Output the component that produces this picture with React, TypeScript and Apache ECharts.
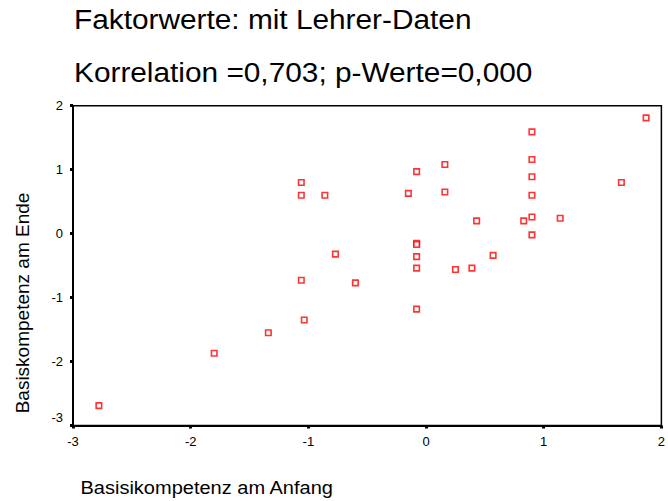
import React, { useEffect, useRef } from "react";
import * as echarts from "echarts";

const titleLine1 = "Faktorwerte: mit Lehrer-Daten";
const titleLine2 = "Korrelation =0,703; p-Werte=0,000";
const xAxisName = "Basisikompetenz am Anfang";
const yAxisName = "Basiskompetenz am Ende";

const xTicks = [-3, -2, -1, 0, 1, 2];
const yTicks = [-3, -2, -1, 0, 1, 2];

// Factor scores: start (x) and end (y)
const anfang = [
  -2.78, -1.8, -1.34, -1.035, -1.06, -0.6, -0.77, -1.06, -1.06, -0.86,
  1.87, 0.9, 0.9, 0.9, 0.9, 0.9, 0.9, 0.83, 1.14, 1.66,
  0.16, -0.08, -0.15, 0.16, 0.43, -0.08, -0.08, -0.08, -0.08, 0.25,
  0.39, 0.57, -0.08,
];
const ende = [
  -2.69, -1.87, -1.55, -1.35, -0.73, -0.77, -0.32, 0.8, 0.6, 0.6,
  1.81, 1.59, 1.16, 0.89, 0.6, 0.26, -0.02, 0.2, 0.24, 0.8,
  1.08, 0.97, 0.63, 0.65, 0.2, -0.15, -0.17, -0.36, -0.54, -0.56,
  -0.54, -0.34, -1.18,
];

const FONT = "'Liberation Sans', Arial, sans-serif";

export default function App() {
  const ref = useRef<HTMLDivElement>(null);

  useEffect(() => {
    document.body.style.margin = "0";
    if (!ref.current) return;
    const chart = echarts.init(ref.current, null, { renderer: "svg" });
    const points = anfang.map((x, i) => [x, ende[i]]);
    const axisCommon = {
      type: "value" as const,
      interval: 1,
      splitLine: { show: false },
      axisLine: { show: true, onZero: false, lineStyle: { color: "#000", width: 2 } },
      axisTick: { show: true, length: 3, inside: false, lineStyle: { color: "#000", width: 3 } },
      axisLabel: { color: "#000", fontSize: 13, fontFamily: FONT, margin: 9 },
    };
    chart.setOption({
      animation: false,
      backgroundColor: "#fff",
      grid: {
        left: 73,
        right: 6,
        top: 105.7,
        bottom: 75.5,
        show: true,
        borderColor: "#000",
        borderWidth: 1.5,
        backgroundColor: "transparent",
      },
      xAxis: { ...axisCommon, min: xTicks[0], max: xTicks[xTicks.length - 1] },
      yAxis: {
        ...axisCommon,
        min: yTicks[0],
        max: yTicks[yTicks.length - 1],
        axisLabel: {
          ...axisCommon.axisLabel,
          margin: 10,
          formatter: (v: number) => (v === yTicks[0] ? "{low|" + v + "}" : String(v)),
          rich: {
            low: { color: "#000", fontSize: 13, fontFamily: FONT, padding: [0, 0, 16, 0] },
          },
        },
      },
      series: [
        {
          type: "scatter",
          data: points,
          symbol: "rect",
          symbolSize: 5.5,
          itemStyle: { color: "#fff", borderColor: "#ff0000", borderWidth: 1.6 },
          emphasis: { disabled: true },
        },
      ],
      graphic: [
        {
          type: "text",
          x: 74,
          y: 19.6,
          scaleX: 1.065,
          style: { text: titleLine1, fontSize: 28, fontFamily: FONT, fill: "#000", align: "left", verticalAlign: "middle" },
        },
        {
          type: "text",
          x: 74,
          y: 72,
          scaleX: 1.065,
          style: { text: titleLine2, fontSize: 28, fontFamily: FONT, fill: "#000", align: "left", verticalAlign: "middle" },
        },
        {
          type: "text",
          x: 80.5,
          y: 487,
          scaleX: 1.07,
          style: { text: xAxisName, fontSize: 18.7, fontFamily: FONT, fill: "#000", align: "left", verticalAlign: "middle" },
        },
        {
          type: "text",
          x: 22,
          y: 303,
          rotation: Math.PI / 2,
          style: { text: yAxisName, fontSize: 19, fontFamily: FONT, fill: "#000", align: "center", verticalAlign: "middle" },
        },
      ],
    });
    return () => chart.dispose();
  }, []);

  return <div ref={ref} style={{ width: 668, height: 501 }} />;
}
